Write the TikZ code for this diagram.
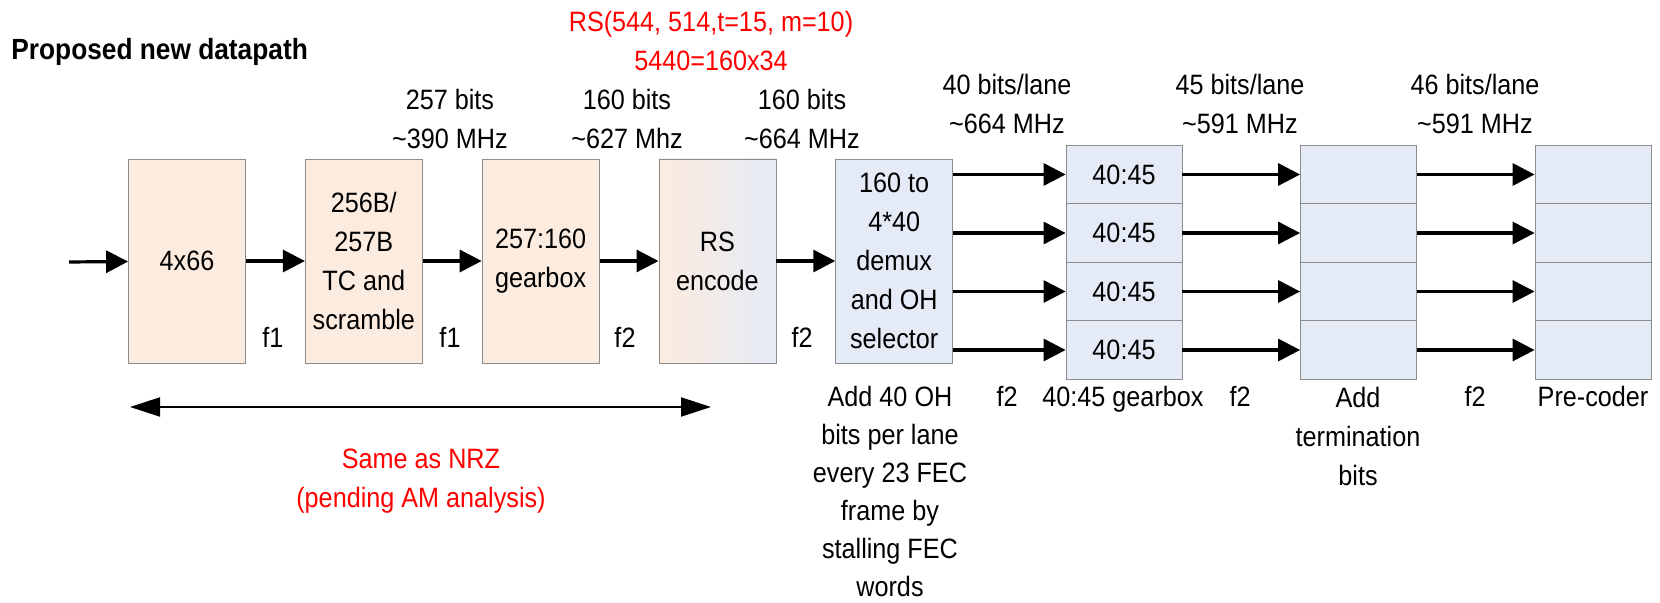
\documentclass[tikz,border=0pt]{standalone}
\usepackage{fontspec}
\setmainfont{Liberation Sans}[FakeStretch=0.9]
\usepackage{xcolor}
\usetikzlibrary{arrows.meta,positioning}
\definecolor{peach}{HTML}{FCEBDF}
\definecolor{laneblue}{HTML}{E5EBF6}
\definecolor{edge}{HTML}{8C8C8C}
\newcommand{\lblfont}{\fontsize{14}{19.5}\selectfont}

\begin{document}
\begin{tikzpicture}[
  x=0.5pt, y=-0.5pt,
  node distance=29.5pt,
  every node/.style={font=\lblfont},
  block/.style={rectangle, draw=edge, fill=peach, minimum width=58.5pt, minimum height=102pt, inner sep=0pt, align=center},
  cell/.style={rectangle, draw=edge, fill=laneblue, minimum width=58pt, minimum height=29.25pt, inner sep=0pt},
  lbl/.style={inner sep=0pt, align=center},
  note/.style={lbl, text=red},
  arrow/.style={-{Triangle[length=11pt, width=11pt]}, line width=1.6pt},
  span/.style={{Triangle[length=15pt, width=9.5pt]}-{Triangle[length=15pt, width=9.5pt]}, line width=1pt}
]
\useasboundingbox (0,0) rectangle (1660,603);

\node[lbl, anchor=base west, font=\fontsize{14.6}{19.5}\selectfont\bfseries] (title) at (11,60) {Proposed new datapath};
\node[note, anchor=north] (rsnote) at (711,11) {RS(544, 514,t=15, m=10)\\5440=160x34};

% main chain
\coordinate (in) at (69,262);
\node[block] (mux) at (187,261) {4x66};
\node[block, right=of mux] (tc) {256B/\\257B\\TC and\\scramble};
\node[block, right=of tc] (gb) {257:160\\gearbox};
\node[block, right=of gb, left color=peach, right color=laneblue] (rs) {RS\\encode};
\node[block, right=of rs, fill=laneblue] (dmx) {160 to\\4*40\\demux\\and OH\\selector};

\draw[arrow] (in) -- (mux);
\draw[arrow] (mux) -- (tc);
\draw[arrow] (tc) -- (gb);
\draw[arrow] (gb) -- (rs);
\draw[arrow] (rs) -- (dmx);

\node[lbl, anchor=north] (w1) at (450,89) {257 bits\\\textasciitilde390 MHz};
\node[lbl, anchor=north] (w2) at (627,89) {160 bits\\\textasciitilde627 Mhz};
\node[lbl, anchor=north] (w3) at (802,89) {160 bits\\\textasciitilde664 MHz};

\node[lbl, anchor=base] (c1) at (273,348) {f1};
\node[lbl, anchor=base] (c2) at (450,348) {f1};
\node[lbl, anchor=base] (c3) at (625,348) {f2};
\node[lbl, anchor=base] (c4) at (802,348) {f2};

% lanes
\foreach \i in {1,...,4} {
  \node[cell] (g\i) at (1124,116+58.5*\i) {40:45};
  \node[cell] (t\i) at (1358.5,116+58.5*\i) {};
  \node[cell] (p\i) at (1593,116+58.5*\i) {};
  \draw[arrow] (dmx.east |- g\i) -- (g\i);
  \draw[arrow] (g\i) -- (t\i);
  \draw[arrow] (t\i) -- (p\i);
}

\node[lbl, anchor=north] (l1) at (1007,74) {40 bits/lane\\\textasciitilde664 MHz};
\node[lbl, anchor=north] (l2) at (1240,74) {45 bits/lane\\\textasciitilde591 MHz};
\node[lbl, anchor=north] (l3) at (1475,74) {46 bits/lane\\\textasciitilde591 MHz};

\node[lbl, anchor=north, font=\fontsize{14}{19}\selectfont] (oh) at (890,386) {Add 40 OH\\bits per lane\\every 23 FEC\\frame by\\stalling FEC\\words};
\node[lbl, anchor=base] (d1) at (1007,407) {f2};
\node[lbl, anchor=base] (gbx) at (1123,407) {40:45 gearbox};
\node[lbl, anchor=base] (d2) at (1240,407) {f2};
\node[lbl, anchor=north] (term) at (1358,387) {Add\\termination\\bits};
\node[lbl, anchor=base] (d3) at (1475,407) {f2};
\node[lbl, anchor=base] (pre) at (1593,407) {Pre-coder};

% same as NRZ
\coordinate (sl) at (130,407);
\coordinate (sr) at (711,407);
\draw[span] (sl) -- (sr);
\node[note, anchor=north] (nrz) at (421,449) {Same as NRZ\\(pending AM analysis)};
\end{tikzpicture}
\end{document}
